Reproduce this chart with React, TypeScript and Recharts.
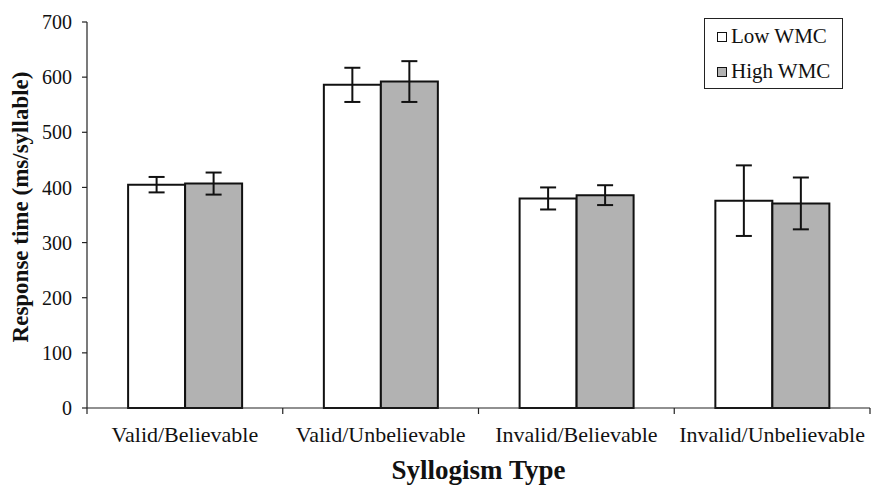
import React from "react";
import {
  BarChart,
  Bar,
  XAxis,
  YAxis,
  ErrorBar,
  Legend,
} from "recharts";

const SERIF = "'Liberation Serif', 'Times New Roman', serif";

const categories = [
  "Valid/Believable",
  "Valid/Unbelievable",
  "Invalid/Believable",
  "Invalid/Unbelievable",
];
const lowWmc = [405, 586, 380, 376];
const highWmc = [407, 592, 386, 371];
const lowWmcErr = [14, 31, 20, 64];
const highWmcErr = [20, 37, 18, 47];
const yTicks = [0, 100, 200, 300, 400, 500, 600, 700];

const series = [
  { key: "low", err: "lowErr", name: "Low WMC", fill: "#ffffff" },
  { key: "high", err: "highErr", name: "High WMC", fill: "#b2b2b2" },
];

const data = categories.map((name, i) => ({
  name,
  low: lowWmc[i],
  high: highWmc[i],
  lowErr: lowWmcErr[i],
  highErr: highWmcErr[i],
}));

function LegendBox() {
  return (
    <div
      style={{
        border: "1.5px solid #222",
        background: "#fff",
        boxSizing: "border-box",
        width: 139,
        height: 71,
        padding: "0 0 0 12px",
        fontFamily: SERIF,
        fontSize: 21,
        color: "#111",
      }}
    >
      {series.map((s) => (
        <div key={s.key} style={{ display: "flex", alignItems: "center", height: 35 }}>
          <span
            style={{
              display: "inline-block",
              width: 8,
              height: 8,
              border: "1.5px solid #111",
              background: s.fill,
              marginRight: 4,
            }}
          />
          <span>{s.name}</span>
        </div>
      ))}
    </div>
  );
}

// category label in the middle, tick marks on the category boundaries
function CatTick(props: any) {
  const { x, y, payload, index, visibleTicksCount, width } = props;
  const half = payload?.offset || width / (2 * visibleTicksCount);
  const last = index === visibleTicksCount - 1;
  return (
    <g>
      <line x1={x - half} x2={x - half} y1={y} y2={y + 6} stroke="#222" strokeWidth={1.2} />
      {last && (
        <line x1={x + half} x2={x + half} y1={y} y2={y + 6} stroke="#222" strokeWidth={1.2} />
      )}
      <text
        x={x}
        y={y + 34}
        textAnchor="middle"
        fontFamily={SERIF}
        fontSize={22}
        fill="#111"
      >
        {payload.value}
      </text>
    </g>
  );
}

function YLabel(props: any) {
  const vb = props.viewBox || {};
  const x = vb.x + 20;
  const y = vb.y + vb.height / 2 - 8;
  return (
    <text
      x={x}
      y={y}
      transform={`rotate(-90, ${x}, ${y})`}
      textAnchor="middle"
      dominantBaseline="central"
      fontFamily={SERIF}
      fontWeight="bold"
      fontSize={23}
      fill="#111"
    >
      Response time (ms/syllable)
    </text>
  );
}

function XLabel(props: any) {
  const vb = props.viewBox || {};
  return (
    <text
      x={vb.x + vb.width / 2}
      y={vb.y + 71}
      textAnchor="middle"
      fontFamily={SERIF}
      fontWeight="bold"
      fontSize={27}
      fill="#111"
    >
      Syllogism Type
    </text>
  );
}

export default function App() {
  return (
    <div style={{ position: "absolute", left: 0, top: 0, background: "#fff" }}>
      <BarChart
        width={872}
        height={486}
        data={data}
        margin={{ top: 22, right: 2, bottom: 0, left: 0 }}
        barCategoryGap="21%"
        barGap={0}
      >
        <XAxis
          dataKey="name"
          height={78}
          axisLine={{ stroke: "#222", strokeWidth: 1.2 }}
          tickLine={false}
          tickSize={0}
          tickMargin={0}
          tick={<CatTick />}
          interval={0}
          label={<XLabel />}
        />
        <YAxis
          width={87}
          domain={[0, 700]}
          ticks={yTicks}
          interval={0}
          tickSize={5}
          tickMargin={10}
          axisLine={{ stroke: "#222", strokeWidth: 1.2 }}
          tickLine={{ stroke: "#222", strokeWidth: 1.2 }}
          tick={{ fontFamily: SERIF, fontSize: 20, fill: "#111" }}
          label={<YLabel />}
        />
        <Legend
          layout="vertical"
          align="center"
          verticalAlign="middle"
          wrapperStyle={{ top: 18, left: 704, width: 139, height: 71 }}
          content={<LegendBox />}
        />
        {series.map((s) => (
          <Bar
            key={s.key}
            dataKey={s.key}
            name={s.name}
            fill={s.fill}
            stroke="#111"
            strokeWidth={2}
            isAnimationActive={false}
          >
            <ErrorBar dataKey={s.err} width={8} stroke="#111" strokeWidth={2} />
          </Bar>
        ))}
      </BarChart>
    </div>
  );
}
